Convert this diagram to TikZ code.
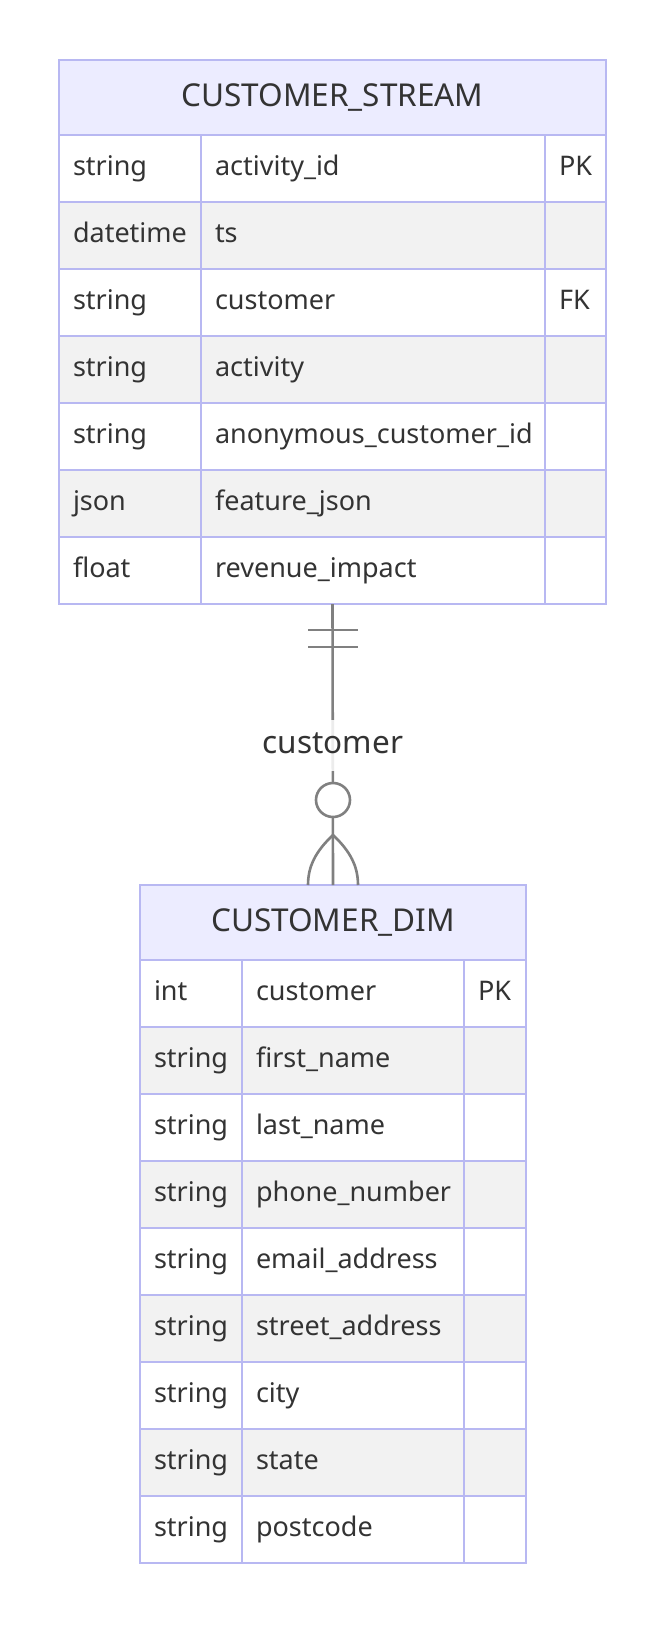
\documentclass[tikz,border=0pt]{standalone}
\usepackage{fontspec}
\setmainfont{Noto Sans}
\definecolor{erline}{RGB}{184,184,242}
\definecolor{erhead}{RGB}{236,236,255}
\definecolor{errow}{RGB}{242,242,242}
\definecolor{ertext}{RGB}{51,51,51}
\definecolor{relgray}{RGB}{128,128,128}
\newcommand{\erfont}{\fontsize{27bp}{32bp}\selectfont}
\newcommand{\erheadfont}{\fontsize{31.5bp}{38bp}\selectfont}
\begin{document}
\begin{tikzpicture}[
    x=1bp, y=-1bp,
    cell/.style={draw=erline, line width=2.6bp, anchor=north west, outer sep=0pt,
        inner xsep=14bp, inner ysep=0pt, minimum height=67bp, text width=#1,
        align=left, text height=20bp, text depth=6bp, text=ertext, font=\erfont},
    oddrow/.style={fill=white},
    evenrow/.style={fill=errow},
    head/.style={draw=erline, line width=2.6bp, anchor=north west, outer sep=0pt,
        fill=erhead, minimum height=75bp, text height=23bp, text depth=6bp,
        text=ertext, font=\erheadfont},
    rel/.style={draw=relgray, line width=2.6bp}
]
\useasboundingbox[fill=white] (0,0) rectangle (666,1634);

% CUSTOMER_STREAM entity
\node[head, minimum width=547bp] (streamhead) at (59,60) {CUSTOMER\_STREAM};
\node[cell=114bp, oddrow] (s1a) at (59,135) {string};
\node[cell=316bp, oddrow] (s1b) at (201,135) {activity\_id};
\node[cell=33bp, oddrow] (s1c) at (545,135) {PK};
\node[cell=114bp, evenrow] (s2a) at (59,202) {datetime};
\node[cell=316bp, evenrow] (s2b) at (201,202) {ts};
\node[cell=33bp, evenrow] (s2c) at (545,202) {};
\node[cell=114bp, oddrow] (s3a) at (59,269) {string};
\node[cell=316bp, oddrow] (s3b) at (201,269) {customer};
\node[cell=33bp, oddrow] (s3c) at (545,269) {FK};
\node[cell=114bp, evenrow] (s4a) at (59,336) {string};
\node[cell=316bp, evenrow] (s4b) at (201,336) {activity};
\node[cell=33bp, evenrow] (s4c) at (545,336) {};
\node[cell=114bp, oddrow] (s5a) at (59,403) {string};
\node[cell=316bp, oddrow] (s5b) at (201,403) {anonymous\_customer\_id};
\node[cell=33bp, oddrow] (s5c) at (545,403) {};
\node[cell=114bp, evenrow] (s6a) at (59,470) {json};
\node[cell=316bp, evenrow] (s6b) at (201,470) {feature\_json};
\node[cell=33bp, evenrow] (s6c) at (545,470) {};
\node[cell=114bp, oddrow] (s7a) at (59,537) {float};
\node[cell=316bp, oddrow] (s7b) at (201,537) {revenue\_impact};
\node[cell=33bp, oddrow] (s7c) at (545,537) {};

% CUSTOMER_DIM entity
\node[head, minimum width=386bp] (dimhead) at (140,885) {CUSTOMER\_DIM};
\node[cell=74bp, oddrow] (d1a) at (140,960) {int};
\node[cell=194bp, oddrow] (d1b) at (242,960) {customer};
\node[cell=34bp, oddrow] (d1c) at (464,960) {PK};
\node[cell=74bp, evenrow] (d2a) at (140,1027) {string};
\node[cell=194bp, evenrow] (d2b) at (242,1027) {first\_name};
\node[cell=34bp, evenrow] (d2c) at (464,1027) {};
\node[cell=74bp, oddrow] (d3a) at (140,1094) {string};
\node[cell=194bp, oddrow] (d3b) at (242,1094) {last\_name};
\node[cell=34bp, oddrow] (d3c) at (464,1094) {};
\node[cell=74bp, evenrow] (d4a) at (140,1161) {string};
\node[cell=194bp, evenrow] (d4b) at (242,1161) {phone\_number};
\node[cell=34bp, evenrow] (d4c) at (464,1161) {};
\node[cell=74bp, oddrow] (d5a) at (140,1228) {string};
\node[cell=194bp, oddrow] (d5b) at (242,1228) {email\_address};
\node[cell=34bp, oddrow] (d5c) at (464,1228) {};
\node[cell=74bp, evenrow] (d6a) at (140,1295) {string};
\node[cell=194bp, evenrow] (d6b) at (242,1295) {street\_address};
\node[cell=34bp, evenrow] (d6c) at (464,1295) {};
\node[cell=74bp, oddrow] (d7a) at (140,1362) {string};
\node[cell=194bp, oddrow] (d7b) at (242,1362) {city};
\node[cell=34bp, oddrow] (d7c) at (464,1362) {};
\node[cell=74bp, evenrow] (d8a) at (140,1429) {string};
\node[cell=194bp, evenrow] (d8b) at (242,1429) {state};
\node[cell=34bp, evenrow] (d8c) at (464,1429) {};
\node[cell=74bp, oddrow] (d9a) at (140,1496) {string};
\node[cell=194bp, oddrow] (d9b) at (242,1496) {postcode};
\node[cell=34bp, oddrow] (d9c) at (464,1496) {};

% Relationship: exactly one to zero or more
\coordinate (streamfoot) at (streamhead.center |- s7b.south);
\draw[rel] (streamfoot) -- (dimhead.north);
\draw[rel] (308,630) -- (358,630);
\draw[rel] (308,647) -- (358,647);
\draw[rel, fill=white] (333,800) circle[radius=17bp];
\draw[rel] (333,835) .. controls (316,851) and (308,866) .. (308,885);
\draw[rel] (333,835) .. controls (350,851) and (358,866) .. (358,885);
\node[fill=white, fill opacity=0.85, text opacity=1, inner xsep=2bp, inner ysep=11bp,
    text height=23bp, text depth=6bp, text=ertext, font=\erheadfont] (rellabel) at (333,745) {customer};
\end{tikzpicture}
\end{document}
